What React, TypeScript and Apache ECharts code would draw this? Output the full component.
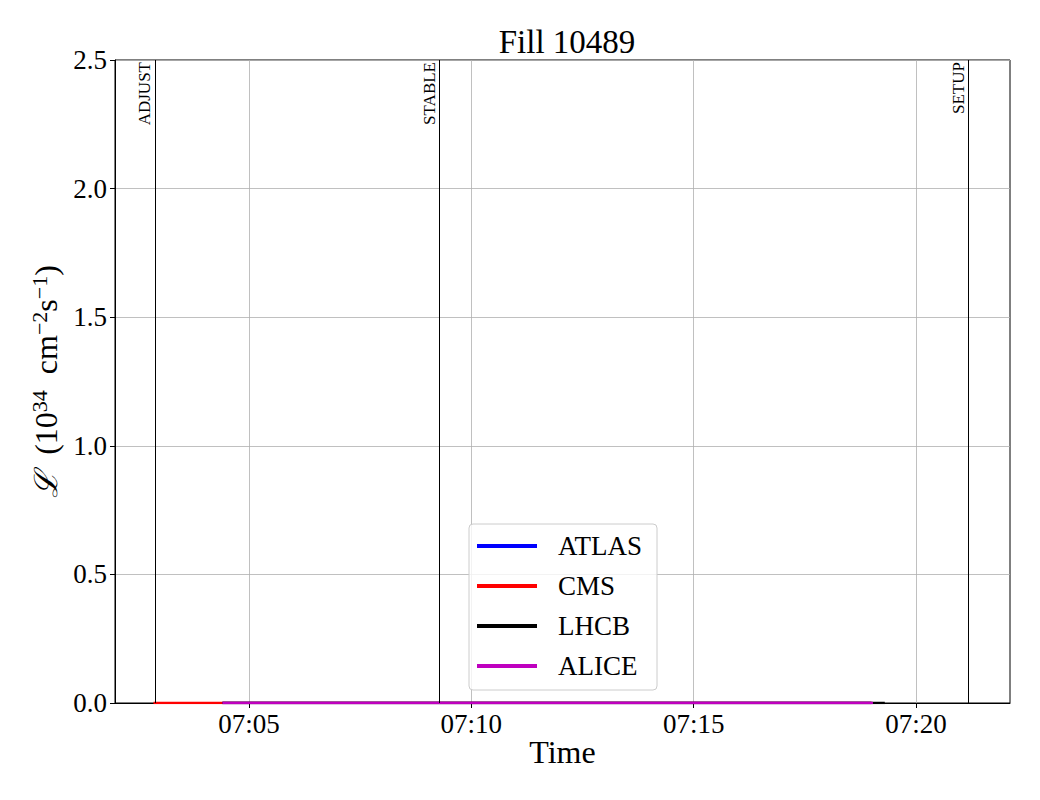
import React, { useEffect, useRef } from "react";
import * as echarts from "echarts";

// x values are seconds after 07:00:00
const toSec = (t: string) => {
  const [h, m, s] = t.split(":").map(Number);
  return (h - 7) * 3600 + m * 60 + s;
};
const xMin = "07:01:59";
const xMax = "07:22:07";
const xTicks = ["07:05:00", "07:10:00", "07:15:00", "07:20:00"];

const atlasTimes = ["07:04:24", "07:08:00", "07:12:00", "07:16:00", "07:19:00"];
const atlasValues = [0, 0, 0, 0, 0];
const cmsTimes = ["07:02:51", "07:06:00", "07:10:00", "07:14:00", "07:19:00"];
const cmsValues = [0, 0, 0, 0, 0];
const lhcbTimes = ["07:04:24", "07:08:00", "07:12:00", "07:16:00", "07:19:18"];
const lhcbValues = [0, 0, 0, 0, 0];
const aliceTimes = ["07:04:24", "07:08:00", "07:12:00", "07:16:00", "07:19:02"];
const aliceValues = [0, 0, 0, 0, 0];

const modeNames = ["ADJUST", "STABLE", "SETUP"];
const modeTimes = ["07:02:53", "07:09:17", "07:21:11"];

const yTicks = [0, 0.5, 1.0, 1.5, 2.0, 2.5];

const FONT = "'Liberation Serif', 'DejaVu Serif', serif";

function pts(times: string[], vals: number[]) {
  return times.map((t, i) => [toSec(t), vals[i]]);
}

function fmtSec(v: number) {
  const total = Math.round(v) + 7 * 3600;
  const h = Math.floor(total / 3600);
  const m = Math.floor((total % 3600) / 60);
  const p = (n: number) => String(n).padStart(2, "0");
  return p(h) + ":" + p(m);
}

export default function App() {
  const ref = useRef<HTMLDivElement>(null);
  useEffect(() => {
    const chart = echarts.init(ref.current!, undefined, { renderer: "svg" });
    const lineSeries = (name: string, color: string, data: number[][]) => ({
      name,
      type: "line",
      data,
      showSymbol: false,
      symbol: "none",
      lineStyle: { color, width: 2.5 },
      itemStyle: { color },
      z: 3,
    });
    const tickVals = xTicks.map(toSec);
    chart.setOption({
      animation: false,
      backgroundColor: "#fff",
      textStyle: { fontFamily: FONT },
      title: {
        text: "Fill 10489",
        left: 562,
        top: 20,
        textAlign: "center",
        textStyle: { fontFamily: FONT, fontSize: 33, fontWeight: "normal", color: "#000" },
      },
      grid: {
        left: 115,
        right: 30,
        top: 60,
        bottom: 97,
        show: true,
        borderColor: "#000",
        borderWidth: 1,
        backgroundColor: "transparent",
      },
      legend: {
        orient: "vertical",
        left: 469,
        top: 524,
        data: ["ATLAS", "CMS", "LHCB", "ALICE"],
        icon: "rect",
        itemWidth: 60,
        itemHeight: 4,
        itemGap: 12,
        padding: [8, 15, 10, 8],
        backgroundColor: "rgba(255,255,255,0.8)",
        borderColor: "#cccccc",
        borderWidth: 1,
        borderRadius: 4,
        textStyle: { fontFamily: FONT, fontSize: 27, color: "#000", padding: [0, 0, 0, 16], lineHeight: 28 },
      },
      xAxis: {
        type: "value",
        min: toSec(xMin),
        max: toSec(xMax),
        name: "Time",
        nameLocation: "middle",
        nameGap: 33,
        nameMoveOverlap: false,
        nameTextStyle: { fontFamily: FONT, fontSize: 32, color: "#000" },
        axisLine: { show: true, lineStyle: { color: "#000", width: 1 } },
        axisTick: { show: true, length: 5, lineStyle: { color: "#000" }, customValues: tickVals },
        axisLabel: {
          fontFamily: FONT,
          fontSize: 27,
          color: "#000",
          margin: 7,
          customValues: tickVals,
          formatter: (v: number) => fmtSec(v),
        },
        splitLine: { show: true, lineStyle: { color: "#b0b0b0", width: 0.8 } },
      },
      yAxis: {
        type: "value",
        min: yTicks[0],
        max: yTicks[yTicks.length - 1],
        interval: 0.5,
        name: "{l|ℒ}  (10{sup|34}  cm{sup|−2}s{sup|−1})",
        nameLocation: "middle",
        nameGap: 50,
        nameRotate: 90,
        nameTextStyle: {
          fontFamily: FONT,
          fontSize: 32,
          color: "#000",
          rich: {
            l: { fontFamily: "'DejaVu Serif', serif", fontStyle: "italic", fontSize: 32, color: "#000" },
            sup: { fontFamily: FONT, fontSize: 22, color: "#000", verticalAlign: "top", padding: [0, 0, 14, 0] },
          },
        },
        axisLine: { show: true, lineStyle: { color: "#000", width: 1 } },
        axisTick: { show: true, length: 5, lineStyle: { color: "#000" } },
        axisLabel: {
          fontFamily: FONT,
          fontSize: 27,
          color: "#000",
          margin: 8,
          formatter: (v: number) => v.toFixed(1),
        },
        splitLine: { show: true, lineStyle: { color: "#b0b0b0", width: 0.8 } },
      },
      series: [
        {
          ...lineSeries("ATLAS", "#0000ff", pts(atlasTimes, atlasValues)),
          markLine: {
            silent: true,
            symbol: "none",
            lineStyle: { color: "#000", width: 1, type: "solid" },
            label: {
              show: true,
              position: "insideEndTop",
              formatter: "{b}",
              fontFamily: FONT,
              fontSize: 17,
              color: "#000",
              distance: 2,
            },
            data: modeNames.map((n, i) => ({ name: n, xAxis: toSec(modeTimes[i]) })),
          },
        },
        lineSeries("CMS", "#ff0000", pts(cmsTimes, cmsValues)),
        lineSeries("LHCB", "#000000", pts(lhcbTimes, lhcbValues)),
        lineSeries("ALICE", "#bf00bf", pts(aliceTimes, aliceValues)),
      ],
    });
    return () => chart.dispose();
  }, []);
  return (
    <div
      ref={ref}
      style={{ position: "fixed", left: 0, top: 0, width: 1040, height: 800 }}
    />
  );
}
